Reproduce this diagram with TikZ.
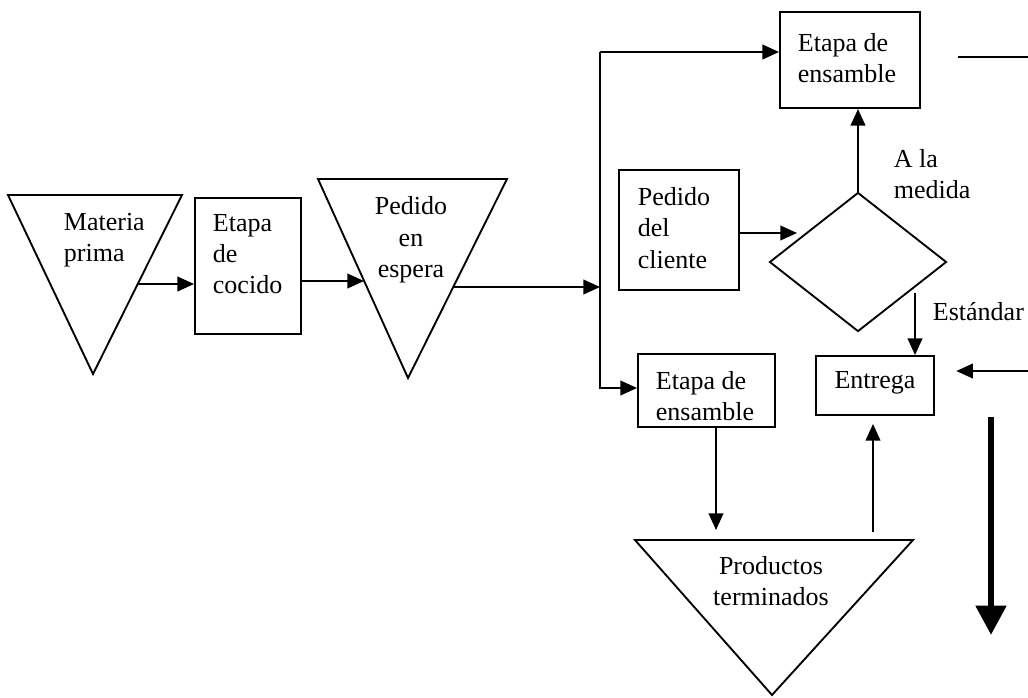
\documentclass[tikz,border=0pt]{standalone}
\usepackage{fontspec}
\setmainfont{Liberation Serif}
\usetikzlibrary{arrows.meta,shapes.geometric}
\begin{document}
\begin{tikzpicture}[x=0.75pt,y=-0.75pt,
  line width=1.4pt,
  box/.style={draw, rectangle, inner sep=0pt},
  lbl/.style={inner sep=0pt, font=\fontsize{19.5}{23.5}\selectfont, align=left},
  clbl/.style={inner sep=0pt, font=\fontsize{19.5}{23.5}\selectfont, align=center},
  arr/.style={-{Triangle[width=11pt,length=12.5pt]}},
  bigarr/.style={line width=5pt, -{Triangle[width=22pt,length=22pt]}}]
\useasboundingbox (0,0) rectangle (1028,697);

% stock triangles
\draw (8,195) -- (182,195) -- (93,374) -- cycle;
\node[lbl, anchor=west] (mpT) at (63,240) {Materia\\prima};
\draw (318,179) -- (507,179) -- (408,378) -- cycle;
\node[clbl] (peT) at (411,240) {Pedido\\en\\espera};
\draw (635,540) -- (913,540) -- (772,695) -- cycle;
\node[clbl] (ptT) at (771,581) {Productos\\terminados};

% process boxes
\node[box, minimum width=79.5pt, minimum height=102pt] (cocido) at (248,266) {};
\node[lbl, anchor=west] (cocidoT) at (212,254) {Etapa\\de\\cocido};
\node[box, minimum width=105pt, minimum height=72pt] (ens1) at (850,60) {};
\node[lbl, anchor=west] (ens1T) at (797,58) {Etapa de\\ensamble};
\node[box, minimum width=90pt, minimum height=90pt] (pc) at (679,230) {};
\node[lbl, anchor=west] (pcT) at (637,228) {Pedido\\del\\cliente};
\node[box, minimum width=88.5pt, minimum height=44.25pt] (entrega) at (875,385.5) {};
\node[clbl] (entregaT) at (875,383) {Entrega};
\node[box, minimum width=102.75pt, minimum height=54.75pt] (ens2) at (706.5,390.5) {};
\node[lbl, anchor=west] (ens2T) at (655,396) {Etapa de\\ensamble};

% decision
\node[draw, diamond, inner sep=0pt, minimum width=132.75pt, minimum height=104.25pt] (dia) at (858,262) {};
\node[lbl, anchor=west] (medidaT) at (893,174) {A la\\medida};
\node[lbl, anchor=west] (estT) at (932,312) {Estándar};

% connection points
\coordinate (mpOut) at (138,284);
\coordinate (peIn) at (364,281);
\coordinate (peOut) at (453,287);
\coordinate (jm) at (600,287);
\coordinate (jt) at (600,52);
\coordinate (jb) at (600,388);
\coordinate (diaIn) at (797,233);
\coordinate (stdTop) at (915,293);
\coordinate (ptIn) at (716,540);
\coordinate (ptOut) at (873,540);
\coordinate (inR) at (1028,371);
\coordinate (outA) at (958,57);
\coordinate (outB) at (1028,57);
\coordinate (thA) at (991,417);
\coordinate (thB) at (991,635);

% flows
\draw[arr] (mpOut) -- (cocido.west |- mpOut);
\draw[arr] (cocido.east |- peIn) -- (peIn);
\draw[arr] (peOut) -- (jm);
\draw[arr] (jt) -- (ens1.west |- jt);
\draw[arr] (jt) -- (jb) -- (ens2.west |- jb);
\draw[arr] (pc.east |- diaIn) -- (diaIn);
\draw[arr] (dia.north) -- (dia.north |- ens1.south);
\draw[arr] (stdTop) -- (stdTop |- entrega.north);
\draw[arr, shorten >=7.5pt] (ens2.south -| ptIn) -- (ptIn);
\draw[arr, shorten <=6pt, shorten >=6pt] (ptOut) -- (entrega.south -| ptOut);
\draw[arr, shorten >=16pt] (inR) -- (entrega.east |- inR);
\draw (outA) -- (outB);
\draw[bigarr] (thA) -- (thB);
\end{tikzpicture}
\end{document}
